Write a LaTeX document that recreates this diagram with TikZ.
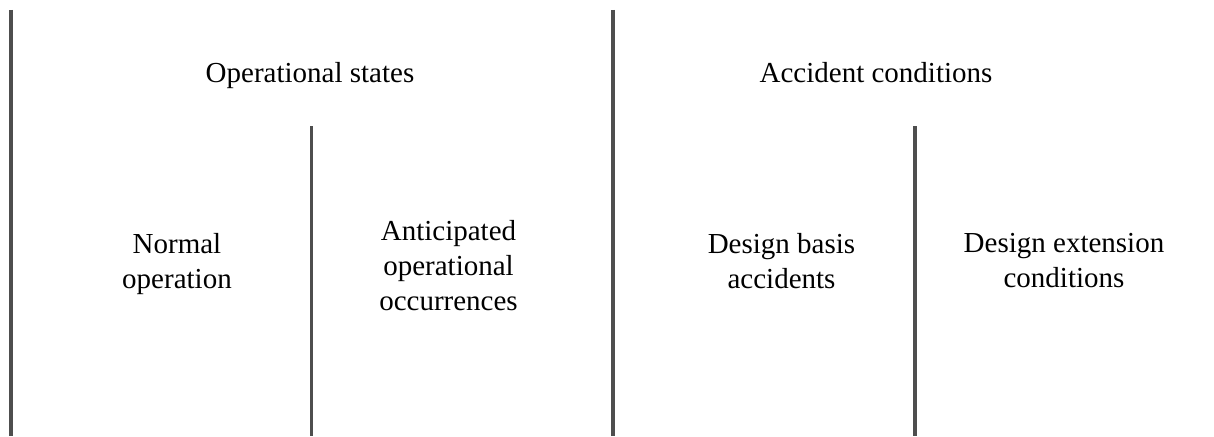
\documentclass[tikz,border=0pt]{standalone}
\usepackage{fontspec}
\setmainfont{Liberation Serif}
\usepackage{tikz}

\definecolor{divgray}{RGB}{78,78,78}

\tikzset{
    divider/.style = {draw = divgray, line width = 3.6pt},
    head/.style = {anchor = base, inner sep = 0pt,
                   font = \fontsize{29}{35}\selectfont},
    state/.style = {anchor = north, inner sep = 0pt, align = center,
                    font = \fontsize{29}{35}\selectfont}
}

\begin{document}
\begin{tikzpicture}[x=1pt,y=-1pt]

    \useasboundingbox (0,0) rectangle (1214,436);

    % dividing lines
    \coordinate (opstop) at (10.8,10);
    \coordinate (opsbot) at (10.8,436);
    \coordinate (acctop) at (613,10);
    \coordinate (accbot) at (613,436);
    \coordinate (aootop) at (311.5,126);
    \coordinate (aoobot) at (311.5,436);
    \coordinate (dectop) at (914.7,126);
    \coordinate (decbot) at (914.7,436);

    \draw[divider] (opstop) -- (opsbot);
    \draw[divider] (acctop) -- (accbot);
    \draw[divider] (aootop) -- (aoobot);
    \draw[divider] (dectop) -- (decbot);

    % headings
    \node[head] (ops) at (310,82) {Operational states};
    \node[head] (acc) at (876,82) {Accident conditions};

    % plant states
    \node[state] (normal) at (177,233) {Normal\\operation};
    \node[state] (aoo) at (448.5,220) {Anticipated\\operational\\occurrences};
    \node[state] (dba) at (781.5,233) {Design basis\\accidents};
    \node[state] (dec) at (1064,233) {Design extension\\conditions};

\end{tikzpicture}
\end{document}
